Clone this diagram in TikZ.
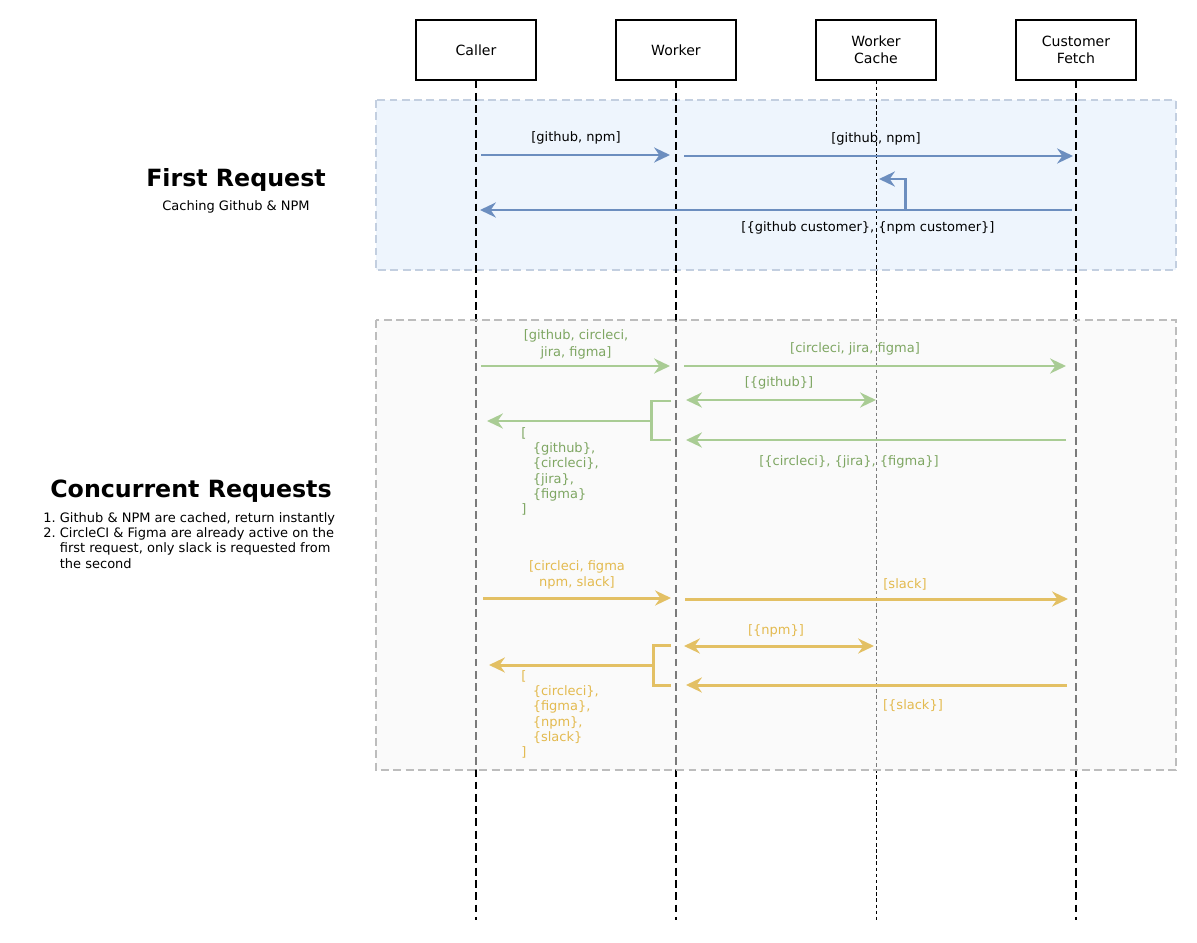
\documentclass[tikz,border=0pt]{standalone}
\usepackage{fontspec}
\setmainfont{DejaVu Sans}
\usetikzlibrary{arrows.meta}

\definecolor{blueArrow}{HTML}{6C8EBF}
\definecolor{blueFill}{HTML}{EEF5FD}
\definecolor{blueEdge}{HTML}{C3CFE0}
\definecolor{greyFill}{HTML}{F5F5F5}
\definecolor{greyEdge}{HTML}{BDBDBD}
\definecolor{greenArrow}{HTML}{A9CC94}
\definecolor{greenText}{HTML}{7EA662}
\definecolor{yellowArrow}{HTML}{E3C064}
\definecolor{yellowText}{HTML}{E3BA4F}

\tikzset{
  actor/.style={draw, line width=0.6pt, minimum width=2.4cm, minimum height=1.2cm,
    align=center, font=\fontsize{8}{9.6}\selectfont},
  lifeline/.style={line width=1.2pt, dash pattern=on 4.5pt off 2.5pt},
  cacheline/.style={line width=0.45pt, dash pattern=on 2pt off 1.5pt},
  region/.style={line width=0.9pt, dash pattern=on 4.5pt off 2.5pt},
  msg/.style={line width=1.7pt, -{Stealth[length=9pt,width=8.5pt]}},
  dblmsg/.style={line width=1.7pt, {Stealth[length=9pt,width=8.5pt]}-{Stealth[length=9pt,width=8.5pt]}},
  branchline/.style={line width=1.7pt},
  lbl/.style={inner sep=0pt, align=center},
  title/.style={font=\bfseries\fontsize{13.5}{16}\selectfont},
}

\begin{document}
\begin{tikzpicture}[x=0.02cm, y=-0.02cm, font=\fontsize{7.4}{8.7}\selectfont]
  \useasboundingbox (0,0) rectangle (1197,943);

  % Participants
  \node[actor] (caller) at (476,50) {Caller};
  \node[actor] (worker) at (676,50) {Worker};
  \node[actor] (cache)  at (876,50) {Worker\\Cache};
  \node[actor] (fetch)  at (1076,50) {Customer\\Fetch};

  % Lifeline ends
  \coordinate (callerEnd) at (476,920);
  \coordinate (workerEnd) at (676,920);
  \coordinate (cacheEnd)  at (876,920);
  \coordinate (fetchEnd)  at (1076,920);

  % First request region
  \draw[region, draw=blueEdge, fill=blueFill] (376,100) rectangle (1176,270);

  % Lifelines
  \draw[lifeline] (caller) -- (callerEnd);
  \draw[lifeline] (worker) -- (workerEnd);
  \draw[cacheline] (cache) -- (cacheEnd);
  \draw[lifeline] (fetch) -- (fetchEnd);

  % Concurrent requests region
  \draw[region, draw=greyEdge, fill=greyFill, fill opacity=0.5] (376,320) rectangle (1176,770);

  % Headings
  \node[title] (firstTitle) at (236,180) {First Request};
  \node (firstSub) at (236,207) {Caching Github \& NPM};
  \node[title] (concTitle) at (191,491) {Concurrent Requests};
  \node[anchor=north west, inner sep=0pt, align=left] (concList) at (43,512)
    {1.\ Github \& NPM are cached, return instantly\\
     2.\ CircleCI \& Figma are already active on the\\
     \hphantom{2.\ }first request, only slack is requested from\\
     \hphantom{2.\ }the second};

  % First request
  \coordinate (b1s) at (481,155);  \coordinate (b1e) at (670,155);
  \coordinate (b2s) at (684,156);  \coordinate (b2e) at (1073,156);
  \coordinate (b3s) at (1072,210); \coordinate (b3e) at (480,210);
  \coordinate (b4s) at (905,210);  \coordinate (b4e) at (879,179);
  \draw[msg, blueArrow] (b1s) -- (b1e);
  \draw[msg, blueArrow] (b2s) -- (b2e);
  \draw[msg, blueArrow] (b3s) -- (b3e);
  \draw[msg, blueArrow] (b4s) |- (b4e);
  \node[lbl] (b1l) at (576,138) {[github, npm]};
  \node[lbl] (b2l) at (876,139) {[github, npm]};
  \node[lbl] (b3l) at (868,228) {[\{github customer\}, \{npm customer\}]};

  % Concurrent request one
  \coordinate (g1s) at (481,366);  \coordinate (g1e) at (670,366);
  \coordinate (g2s) at (684,366);  \coordinate (g2e) at (1066,366);
  \coordinate (g3s) at (686,400);  \coordinate (g3e) at (876,400);
  \coordinate (g4s) at (1066,440); \coordinate (g4e) at (686,440);
  \coordinate (g5a) at (671,401);  \coordinate (g5b) at (671,440);
  \coordinate (g5m) at (651,421);  \coordinate (g5e) at (487,421);
  \draw[msg, greenArrow] (g1s) -- (g1e);
  \draw[msg, greenArrow] (g2s) -- (g2e);
  \draw[dblmsg, greenArrow] (g3s) -- (g3e);
  \draw[msg, greenArrow] (g4s) -- (g4e);
  \draw[branchline, greenArrow] (g5a) -| (g5m) |- (g5b);
  \draw[msg, greenArrow] (g5m) -- (g5e);
  \node[lbl, greenText, font=\fontsize{7.4}{9.6}\selectfont] (g1l) at (576,344) {[github, circleci,\\jira, figma]};
  \node[lbl, greenText] (g2l) at (855,349) {[circleci, jira, figma]};
  \node[lbl, greenText] (g3l) at (779,383) {[\{github\}]};
  \node[lbl, greenText] (g4l) at (849,462) {[\{circleci\}, \{jira\}, \{figma\}]};
  \node[lbl, greenText, anchor=north west, align=left] (g5l) at (521,427)
    {[\\\hspace{6.5pt}\{github\},\\\hspace{6.5pt}\{circleci\},\\\hspace{6.5pt}\{jira\},\\\hspace{6.5pt}\{figma\}\\]};

  % Concurrent request two
  \coordinate (y1s) at (483,598);  \coordinate (y1e) at (671,598);
  \coordinate (y2s) at (685,599);  \coordinate (y2e) at (1068,599);
  \coordinate (y3s) at (684,646);  \coordinate (y3e) at (874,646);
  \coordinate (y4s) at (1067,685); \coordinate (y4e) at (686,685);
  \coordinate (y5a) at (671,645);  \coordinate (y5b) at (671,685);
  \coordinate (y5m) at (653,665);  \coordinate (y5e) at (489,665);
  \draw[msg, yellowArrow] (y1s) -- (y1e);
  \draw[msg, yellowArrow] (y2s) -- (y2e);
  \draw[dblmsg, yellowArrow] (y3s) -- (y3e);
  \draw[msg, yellowArrow] (y4s) -- (y4e);
  \draw[branchline, yellowArrow] (y5a) -| (y5m) |- (y5b);
  \draw[msg, yellowArrow] (y5m) -- (y5e);
  \node[lbl, yellowText, font=\fontsize{7.4}{9.2}\selectfont] (y1l) at (577,575) {[circleci, figma\\npm, slack]};
  \node[lbl, yellowText] (y2l) at (905,584) {[slack]};
  \node[lbl, yellowText] (y3l) at (776,631) {[\{npm\}]};
  \node[lbl, yellowText] (y4l) at (913,706) {[\{slack\}]};
  \node[lbl, yellowText, anchor=north west, align=left] (y5l) at (521,670)
    {[\\\hspace{6.5pt}\{circleci\},\\\hspace{6.5pt}\{figma\},\\\hspace{6.5pt}\{npm\},\\\hspace{6.5pt}\{slack\}\\]};
\end{tikzpicture}
\end{document}
